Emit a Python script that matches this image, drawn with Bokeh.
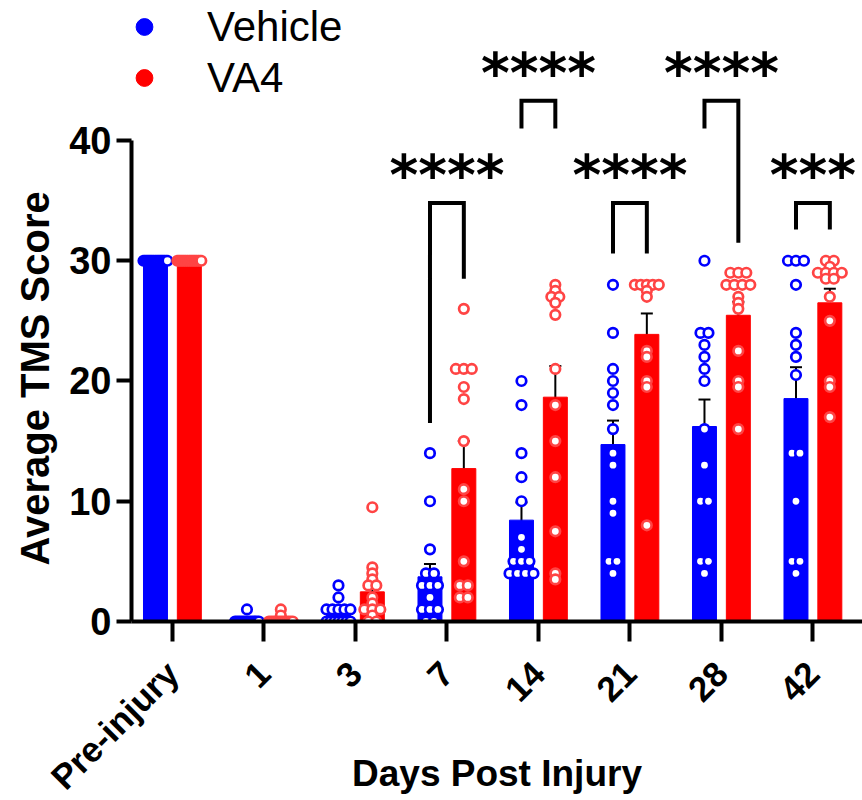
import numpy as np
from bokeh.plotting import figure
from bokeh.models import (Range1d, FixedTicker, Whisker, TeeHead, ColumnDataSource,
                          Legend, LegendItem, Title)
from bokeh.core.properties import value
from bokeh.embed import file_html
from bokeh.resources import INLINE

# ---------------- data ----------------
days = ["Pre-injury", "1", "3", "7", "14", "21", "28", "42"]

vehicle = [
    [30, 30, 30, 30, 30, 30, 30, 30, 30, 30, 30, 30, 30, 30],
    [1, 0, 0, 0, 0, 0, 0, 0, 0, 0, 0, 0, 0, 0],
    [3, 2, 1, 1, 1, 1, 1, 0, 0, 0, 0, 0, 0, 0],
    [14, 10, 6, 4, 4, 3, 3, 3, 2, 1, 1, 1, 0, 0],
    [20, 18, 14, 12, 10, 7, 6, 5, 5, 5, 4, 4, 4, 4],
    [28, 24, 21, 20, 19, 18, 16, 14, 13, 10, 9, 5, 5, 4],
    [30, 24, 24, 23, 22, 21, 20, 16, 13, 10, 10, 5, 5, 4],
    [30, 30, 30, 28, 24, 23, 22, 20.5, 14, 14, 10, 5, 5, 4],
]

va4 = [
    [30, 30, 30, 30, 30, 30, 30, 30, 30, 30, 30, 30, 30, 30],
    [1, 0.5, 0, 0, 0, 0, 0, 0, 0, 0, 0, 0, 0, 0],
    [9.5, 4.5, 4, 3.5, 3, 3, 2, 1.5, 1, 1, 1, 0.5, 0, 0],
    [26, 21, 21, 21, 19.5, 18.5, 15, 11, 10, 5, 3, 3, 2, 2],
    [28, 27.5, 27, 27, 26.5, 25.5, 21, 18, 15, 12, 7.5, 4, 3.5],
    [28, 28, 28, 28, 28, 27.5, 27, 22.5, 22, 20, 19.5, 8],
    [29, 29, 29, 28, 28, 28, 28, 27, 26.5, 26, 22.5, 20, 19.5, 16],
    [30, 30, 29.5, 29, 29, 29, 29, 28.5, 28.5, 27, 25, 20, 19.5, 17],
]

y_ticks = [0, 10, 20, 30, 40]

# significance brackets (day index, label, top of bracket, left leg end, right leg end, star height)
sig_day = [3, 4, 5, 6, 7]
sig_label = ["****", "****", "****", "****", "***"]
sig_top = [34.8, 43.3, 34.8, 43.3, 34.8]
sig_left = [16.5, 41.0, 30.6, 41.0, 32.6]
sig_right = [28.5, 41.0, 30.6, 31.5, 32.6]
sig_star_y = [37.1, 45.6, 37.1, 45.6, 37.1]

# ---------------- styling ----------------
BLUE = "#0000ff"
RED = "#ff0000"
RED_PT = "#ff4444"
FONT = "Liberation Sans"
OFF = 0.185      # dodge of bars from tick
BW = 0.262       # bar width
PXU = 91.75      # px per x unit

W, H = 862, 800
p = figure(width=W, height=H, output_backend="svg", toolbar_location=None,
           x_range=Range1d(-0.447, 7.542), y_range=Range1d(0, 51.64),
           min_border_left=129, min_border_right=0, min_border_top=0,
           min_border_bottom=179)
p.outline_line_color = None
p.grid.visible = False
p.background_fill_color = "white"
p.border_fill_color = "white"

x = np.arange(len(days), dtype=float)

def stats(groups):
    m = np.array([np.mean(g) for g in groups])
    s = np.array([np.std(g, ddof=1) / np.sqrt(len(g)) for g in groups])
    return m, s

veh_m, veh_s = stats(vehicle)
va_m, va_s = stats(va4)

# bars
p.vbar(x=x - OFF, top=veh_m, bottom=0, width=BW, fill_color=BLUE, line_color=BLUE)
p.vbar(x=x + OFF, top=va_m, bottom=0, width=BW, fill_color=RED, line_color=RED)

def spread(vals, cx):
    xs, ys = [], []
    rows = {}
    for v in vals:
        rows[v] = rows.get(v, 0) + 1
    for v, k in rows.items():
        step = 0 if k == 1 else min(8.0, 24.0 / (k - 1))
        for i in range(k):
            xs.append(cx + (i - (k - 1) / 2) * step / PXU)
            ys.append(v)
    return xs, ys

for grp, dx, col in ((vehicle, -OFF, BLUE), (va4, OFF, RED_PT)):
    px, py = [], []
    for i, g in enumerate(grp):
        a, b = spread(g, x[i] + dx)
        px += a
        py += b
    p.scatter(px, py, marker="circle", size=9.5, fill_color="white",
              line_color=col, line_width=2.7)

# error bars
for m, s, dx in ((veh_m, veh_s, -OFF), (va_m, va_s, OFF)):
    src = ColumnDataSource(dict(base=x + dx, upper=m + s, lower=m - s))
    wk = Whisker(base="base", upper="upper", lower="lower", source=src,
                 line_color="black", line_width=2,
                 upper_head=TeeHead(size=12, line_width=2, line_color="black"),
                 lower_head=TeeHead(size=12, line_width=2, line_color="black"))
    p.add_layout(wk)

# brackets
bx, by = [], []
for d, t, l, r in zip(sig_day, sig_top, sig_left, sig_right):
    bx.append([d - OFF, d - OFF, d + OFF, d + OFF])
    by.append([l, t, t, r])
p.multi_line(bx, by, line_color="black", line_width=4, line_join="miter")
p.text(x=sig_day, y=sig_star_y, text=sig_label, text_font=value("DejaVu Sans"),
       text_font_style="bold", text_font_size="55px", text_align="center",
       text_baseline="middle", text_color="black")

# legend
r1 = p.scatter([-10], [-10], marker="circle", size=17, color=BLUE)
r2 = p.scatter([-10], [-10], marker="circle", size=17, color=RED)
legend = Legend(items=[LegendItem(label="Vehicle", renderers=[r1]),
                       LegendItem(label="VA4", renderers=[r2])],
                location=(-8, 518), glyph_width=42, glyph_height=51,
                label_standoff=42, spacing=0, padding=0, margin=0,
                border_line_color=None, background_fill_alpha=0,
                label_text_font_size="42px", label_text_font=FONT,
                label_text_color="black")
p.add_layout(legend)

# axes
yax = p.yaxis[0]
yax.ticker = FixedTicker(ticks=y_ticks)
yax.bounds = (0, 40)
yax.axis_line_width = 4
yax.axis_line_color = "black"
yax.major_tick_line_width = 4
yax.major_tick_line_color = "black"
yax.major_tick_out = 15
yax.major_tick_in = 0
yax.minor_tick_line_color = None
yax.major_label_text_font = FONT
yax.major_label_text_font_style = "bold"
yax.major_label_text_font_size = "38px"
yax.major_label_text_color = "black"
yax.major_label_standoff = 5

ytitle = Title(text="Average TMS Score", align="left", offset=56, standoff=20,
               text_font=FONT, text_font_style="bold", text_font_size="40px",
               text_color="black")
p.add_layout(ytitle, "left")

xax = p.xaxis[0]
xax.ticker = FixedTicker(ticks=list(range(len(days))))
xax.major_label_overrides = {i: d for i, d in enumerate(days)}
xax.axis_line_width = 4
xax.axis_line_color = "black"
xax.major_tick_line_width = 4
xax.major_tick_line_color = "black"
xax.major_tick_out = 20
xax.major_tick_in = 0
xax.minor_tick_line_color = None
xax.major_label_orientation = np.pi / 4
xax.major_label_text_font = FONT
xax.major_label_text_font_style = "bold"
xax.major_label_text_font_size = "35px"
xax.major_label_text_color = "black"
xax.major_label_standoff = 26
xax.axis_label = "Days Post Injury"
xax.axis_label_text_font = FONT
xax.axis_label_text_font_style = "bold"
xax.axis_label_text_font_size = "37px"
xax.axis_label_text_color = "black"
xax.axis_label_standoff = -61

open("out.html", "w").write(file_html(p, INLINE))
